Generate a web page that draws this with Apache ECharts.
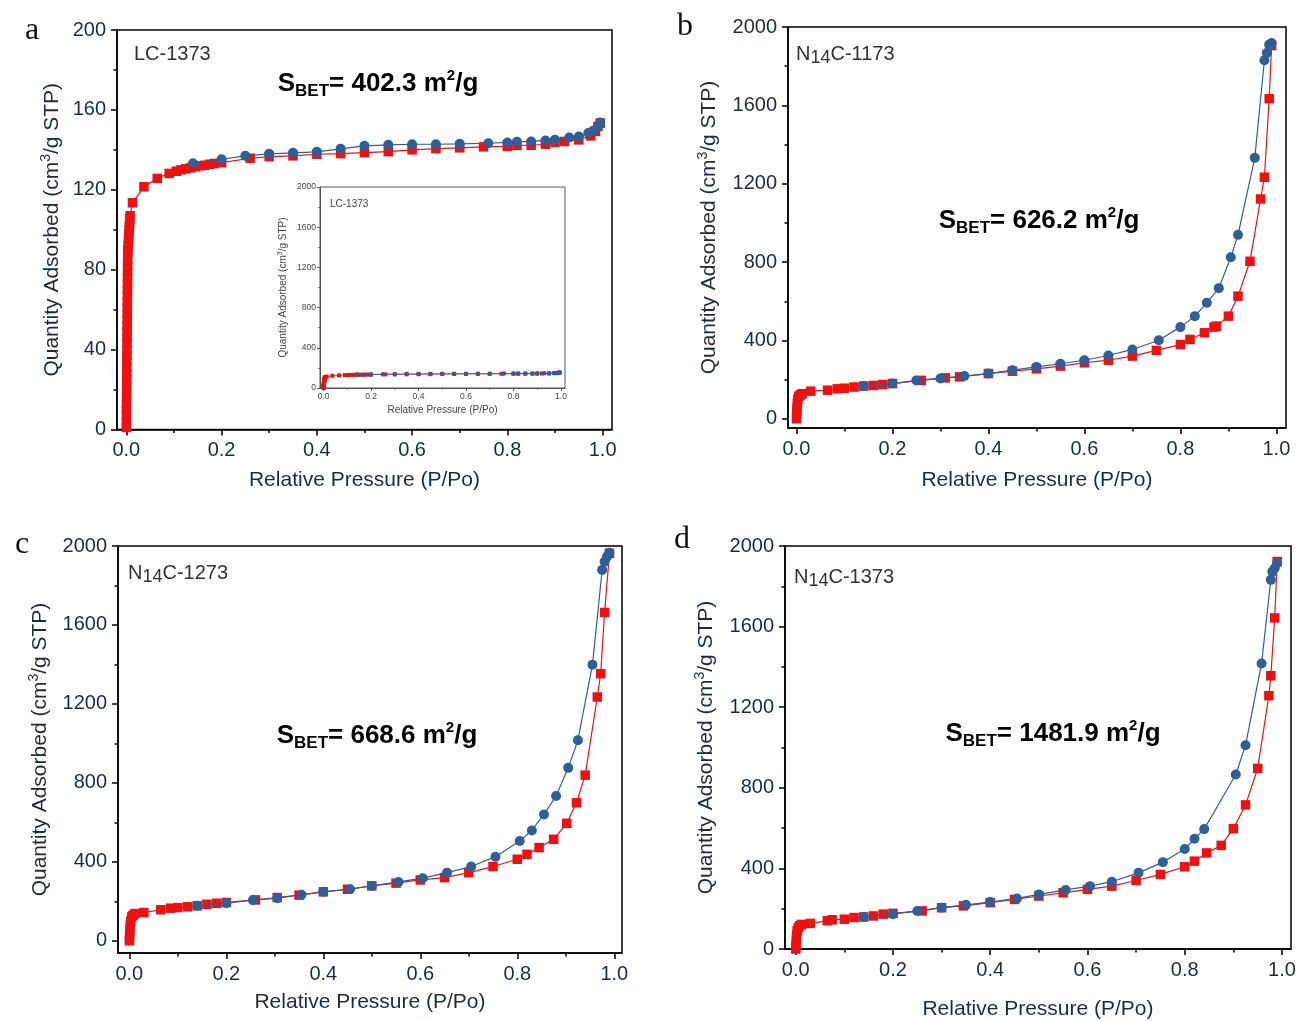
<!DOCTYPE html>
<html><head><meta charset="utf-8">
<script src="https://cdn.jsdelivr.net/npm/echarts@6/dist/echarts.min.js"></script>
<style>html,body{margin:0;padding:0;background:#fff}#c{width:1300px;height:1021px}</style>
</head><body><div id="c"></div>
<script>
// ---------------- DATA ----------------
const xTicks = [0, 0.2, 0.4, 0.6, 0.8, 1.0];
const xMinor = [0.1, 0.3, 0.5, 0.7, 0.9];
const yTicksA = [0, 40, 80, 120, 160, 200];
const yMinorA = [20, 60, 100, 140, 180];
const yTicksN = [0, 400, 800, 1200, 1600, 2000];
const yMinorN = [200, 600, 1000, 1400, 1800];

const sampleNames = ['LC-1373', 'N14C-1173', 'N14C-1273', 'N14C-1373'];
const sbetValues = ['402.3', '626.2', '668.6', '1481.9'];
const panelLetters = ['a', 'b', 'c', 'd'];

// Panel a: LC-1373
const aAdsP = [0.0001,0.0002,0.0003,0.0004,0.0005,0.0006,0.0007,0.0008,0.0009,0.001,0.0011,0.0012,0.0013,0.0014,0.0015,0.0016,0.0017,0.0018,0.0019,0.002,0.0021,0.0022,0.0023,0.0024,0.0025,0.0026,0.0027,0.0028,0.0029,0.003,0.0035,0.004,0.0045,0.005,0.0055,0.006,0.0065,0.007,0.0075,0.008,0.013,0.037,0.065,0.09,0.105,0.115,0.125,0.135,0.145,0.155,0.165,0.175,0.185,0.2,0.26,0.3,0.35,0.4,0.45,0.5,0.55,0.6,0.65,0.7,0.75,0.8,0.82,0.85,0.88,0.9,0.92,0.95,0.975,0.985,0.99,0.995];
const aAdsV = [1,4,7,10,13,16,19,22,25,28,31,34,37,40,43,46,49,52,55,58,61,64,67,70,73,76,79,82,85,88,90,92,94,96,98,100,102,104,105.5,107,113.5,121.5,125.7,128.2,129.3,130,130.5,131,131.5,132,132.3,132.8,133.2,133.6,135.8,136.6,137,137.8,138.1,138.6,139.1,140,140.6,141,141.5,141.7,142.2,142.3,142.8,143.7,144.2,145,147,149.2,151.7,153.4];
const aDesP = [0.14,0.2,0.25,0.3,0.35,0.4,0.45,0.5,0.55,0.6,0.65,0.7,0.76,0.8,0.82,0.85,0.88,0.9,0.93,0.95,0.97,0.98,0.99,0.995];
const aDesV = [133.3,135.3,137,138,138.5,139,140.5,142,142.5,142.8,142.8,143,143.3,143.7,144,144.2,144.7,145,146.2,146.7,148.4,149.5,151.7,153.7];

// Panel b: N14C-1173
const bAdsP = [0.0002,0.0005,0.001,0.0015,0.002,0.003,0.005,0.008,0.012,0.03,0.065,0.085,0.1,0.12,0.14,0.16,0.18,0.2,0.26,0.31,0.34,0.4,0.45,0.5,0.55,0.6,0.65,0.7,0.75,0.8,0.82,0.85,0.87,0.875,0.9,0.92,0.945,0.967,0.975,0.985,0.99];
const bAdsV = [0,20,40,60,80,100,115,122,128,141,146,153,156,162,167,170,175,180,196,209,214,231,243,255,269,286,299,320,349,379,405,439,468,473,524,626,804,1122,1233,1634,1905];
const bDesP = [0.14,0.2,0.25,0.3,0.35,0.4,0.45,0.5,0.55,0.6,0.65,0.7,0.755,0.8,0.83,0.855,0.88,0.905,0.92,0.955,0.975,0.98,0.985,0.99];
const bDesV = [167,180,196,206,218,231,248,265,281,299,323,354,401,468,524,592,667,825,939,1332,1830,1867,1910,1918];

// Panel c: N14C-1273
const cAdsP = [0.0002,0.0005,0.001,0.0015,0.002,0.003,0.005,0.008,0.012,0.03,0.065,0.085,0.1,0.12,0.14,0.16,0.18,0.2,0.26,0.305,0.35,0.4,0.45,0.5,0.55,0.6,0.65,0.7,0.75,0.8,0.82,0.845,0.875,0.902,0.922,0.94,0.965,0.972,0.98,0.99];
const cAdsV = [0,20,40,60,80,100,120,130,138,143,157,165,168,172,177,185,190,194,207,219,231,248,261,278,292,308,320,345,376,413,438,472,514,595,699,839,1235,1353,1663,1963];
const cDesP = [0.14,0.2,0.255,0.305,0.355,0.4,0.455,0.5,0.555,0.605,0.655,0.705,0.755,0.805,0.83,0.855,0.88,0.905,0.925,0.955,0.975,0.98,0.985,0.99];
const cDesV = [177,190,206,216,233,248,261,278,298,317,345,376,426,505,559,640,733,876,1016,1399,1879,1921,1946,1966];

// Panel d: N14C-1373
const dAdsP = [0.0002,0.0005,0.001,0.0015,0.002,0.003,0.005,0.008,0.012,0.03,0.065,0.075,0.1,0.12,0.14,0.16,0.18,0.2,0.26,0.3,0.345,0.4,0.45,0.5,0.55,0.6,0.65,0.7,0.75,0.8,0.82,0.845,0.875,0.9,0.925,0.95,0.973,0.977,0.985,0.99];
const dAdsV = [0,15,30,50,70,90,105,115,122,127,140,145,148,156,159,164,173,177,189,205,214,230,246,263,279,296,312,340,370,408,436,477,514,597,715,896,1257,1356,1643,1923];
const dDesP = [0.14,0.2,0.25,0.3,0.35,0.4,0.455,0.5,0.555,0.605,0.65,0.705,0.755,0.8,0.82,0.84,0.905,0.925,0.958,0.977,0.98,0.985,0.99];
const dDesV = [159,173,189,205,219,233,251,271,293,312,334,378,431,496,547,595,866,1011,1417,1832,1873,1890,1915];

// ---------------- CHART ----------------
const FONT = '"Liberation Sans", Arial, sans-serif';
const RED = '#ee1111', BLUE = '#2f5f98';
const TXT = '#1e2b3c';
const zip = (xs, ys) => xs.map((x, i) => [x, ys[i]]);

const panels = [
  {grid:{left:117, top:30, width:495, height:399.5}, xr:[-0.0195,1.0197], yr:[0,200], yT:yTicksA, yM:yMinorA, ads:zip(aAdsP,aAdsV), des:zip(aDesP,aDesV), yGap:52, xGap:40},
  {grid:{left:788, top:27, width:498, height:401}, xr:[-0.0175,1.02], yr:[-47,2000], yT:yTicksN, yM:yMinorN, ads:zip(bAdsP,bAdsV), des:zip(bDesP,bDesV), yGap:66, xGap:42},
  {grid:{left:118, top:546, width:504, height:407}, xr:[-0.0233,1.0159], yr:[-62,2000], yT:yTicksN, yM:yMinorN, ads:zip(cAdsP,cAdsV), des:zip(cDesP,cDesV), yGap:65, xGap:39},
  {grid:{left:785, top:546, width:506, height:408}, xr:[-0.022,1.0185], yr:[0,2000], yT:yTicksN, yM:yMinorN, ads:zip(dAdsP,dAdsV), des:zip(dDesP,dDesV), yGap:66, xGap:50},
];
const inset = {grid:{left:320, top:187, width:245, height:201}, xr:[-0.015,1.017], yr:[0,2000], yT:yTicksN, yM:yMinorN, ads:zip(aAdsP,aAdsV), des:zip(aDesP,aDesV)};

const grids = [], xAxes = [], yAxes = [], series = [];

function addPanel(p, small) {
  const gi = grids.length;
  const axisColor = small ? '#555' : '#000';
  const lw = small ? 1 : 1.5;
  grids.push(Object.assign({show:true, borderColor:axisColor, borderWidth:lw, backgroundColor:small ? '#fff' : 'transparent', containLabel:false}, p.grid));
  const lblStyle = {fontSize: small ? 8.5 : 20, color: small ? '#444' : TXT, fontFamily: FONT};
  xAxes.push({
    type:'value', gridIndex:gi, min:p.xr[0], max:p.xr[1], position:'bottom',
    axisLine:{show:true, onZero:false, lineStyle:{color:axisColor, width:lw}},
    axisTick:{show:true, customValues:xTicks, length: small ? 3 : 6, lineStyle:{color:axisColor, width:lw}},
    axisLabel:Object.assign({show:true, customValues:xTicks, formatter:v => v.toFixed(1), margin: small ? 4 : 11}, lblStyle),
    splitLine:{show:false},
    name:'Relative Pressure (P/Po)', nameLocation:'middle', nameGap: small ? 17 : p.xGap,
    nameTextStyle:{fontSize: small ? 10 : 21, color: small ? '#444' : TXT, fontFamily: FONT}
  });
  xAxes.push({
    type:'value', gridIndex:gi, min:p.xr[0], max:p.xr[1], position:'bottom',
    axisLine:{show:false, onZero:false}, axisLabel:{show:false}, splitLine:{show:false},
    axisTick:{show:true, customValues:xMinor, length: small ? 1.5 : 3.5, lineStyle:{color:axisColor, width:lw}}
  });
  yAxes.push({
    type:'value', gridIndex:gi, min:p.yr[0], max:p.yr[1], position:'left',
    axisLine:{show:true, onZero:false, lineStyle:{color:axisColor, width:lw}},
    axisTick:{show:true, customValues:p.yT, length: small ? 3 : 6, lineStyle:{color:axisColor, width:lw}},
    axisLabel:Object.assign({show:true, customValues:p.yT, formatter:v => String(Math.round(v)), margin: small ? 4 : 11}, lblStyle),
    splitLine:{show:false},
    name:'Quantity Adsorbed (cm{sup|3}/g STP)', nameLocation:'middle', nameGap: small ? 31 : p.yGap,
    nameTextStyle:{fontSize: small ? 10 : 21, color: small ? '#444' : TXT, fontFamily: FONT, lineHeight: small ? 12 : 26,
      rich:{sup:{fontSize: small ? 7 : 14, lineHeight: small ? 7 : 14, verticalAlign:'top', color: small ? '#444' : TXT, fontFamily: FONT}}}
  });
  yAxes.push({
    type:'value', gridIndex:gi, min:p.yr[0], max:p.yr[1], position:'left',
    axisLine:{show:false, onZero:false}, axisLabel:{show:false}, splitLine:{show:false},
    axisTick:{show:true, customValues:p.yM, length: small ? 1.5 : 3.5, lineStyle:{color:axisColor, width:lw}}
  });
  const xi = gi * 2, yi = gi * 2;
  series.push({
    type:'line', xAxisIndex:xi, yAxisIndex:yi, data:p.ads, symbol:'rect', symbolSize: small ? 4 : 9.5,
    itemStyle:{color:RED}, lineStyle:{color:RED, width: small ? 0.8 : 1.2}, animation:false, z: small ? 6 : 2
  });
  series.push({
    type:'line', xAxisIndex:xi, yAxisIndex:yi, data:p.des, symbol:'circle', symbolSize: small ? 4.5 : 10,
    itemStyle:{color:BLUE}, lineStyle:{color:BLUE, width: small ? 0.8 : 1.2}, animation:false, z: small ? 7 : 3
  });
}
panels.forEach(p => addPanel(p, false));
addPanel(inset, true);

// annotations
const letterPos = [[32, 31], [685, 27], [22, 545], [682, 540]];
const namePos = [[134, 54], [796, 54], [128, 573], [794, 577]];
const sbetPos = [[378, 84], [1039, 221], [377, 736], [1053, 734]];
const graphic = [];
panelLetters.forEach((t, i) => graphic.push({type:'text', x:letterPos[i][0], y:letterPos[i][1], z:100,
  style:{text:t, fontSize:32, fontFamily:'"Liberation Serif", "DejaVu Serif", serif', fill:'#111', textAlign:'center', textVerticalAlign:'middle', align:'center', verticalAlign:'middle'}}));
sampleNames.forEach((t, i) => {
  const m = t.match(/^N(\d+)(.*)$/);
  const txt = m ? '{n|N}{s|' + m[1] + '}{n|' + m[2] + '}' : '{n|' + t + '}';
  graphic.push({type:'text', x:namePos[i][0], y:namePos[i][1], z:100,
    style:{text:txt, textAlign:'left', textVerticalAlign:'middle', align:'left', verticalAlign:'middle',
      rich:{n:{fontSize:20, lineHeight:26, fontFamily:FONT, fill:'#333'}, s:{fontSize:18, lineHeight:16, verticalAlign:'bottom', fontFamily:FONT, fill:'#333'}}}});
});
sbetValues.forEach((v, i) => graphic.push({type:'text', x:sbetPos[i][0], y:sbetPos[i][1], z:100,
  style:{text:'{b|S}{sub|BET}{b|= ' + v + ' m}{sup|2}{b|/g}', textAlign:'center', textVerticalAlign:'middle', align:'center', verticalAlign:'middle',
    rich:{b:{fontSize:26, fontWeight:'bold', lineHeight:32, fontFamily:FONT, fill:'#000'},
      sub:{fontSize:17, fontWeight:'bold', lineHeight:17, verticalAlign:'bottom', fontFamily:FONT, fill:'#000'},
      sup:{fontSize:15, fontWeight:'bold', lineHeight:15, verticalAlign:'top', fontFamily:FONT, fill:'#000'}}}}));
graphic.push({type:'text', x:330, y:204, z:100, style:{text:'LC-1373', fontSize:10, fontFamily:FONT, fill:'#444', textAlign:'left', textVerticalAlign:'middle', align:'left', verticalAlign:'middle'}});

const chart = echarts.init(document.getElementById('c'), null, {renderer:'canvas'});
chart.setOption({
  animation:false, backgroundColor:'#fff',
  grid:grids, xAxis:xAxes, yAxis:yAxes, series:series, graphic:graphic
});
</script>
</body></html>
